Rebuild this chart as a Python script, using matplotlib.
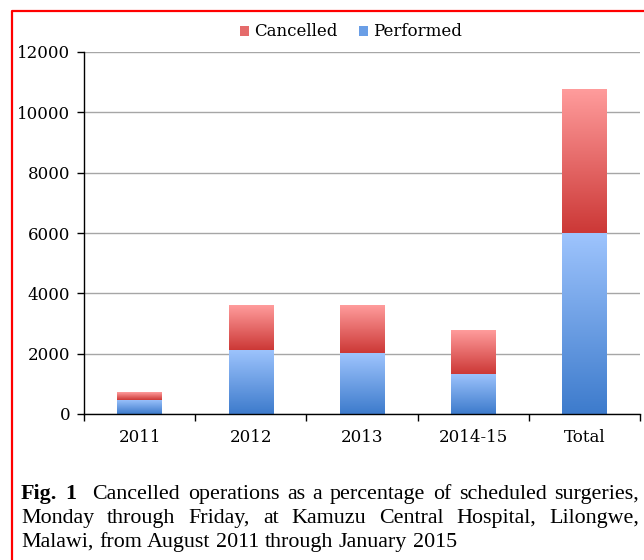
import matplotlib
matplotlib.use("Agg")
import matplotlib.pyplot as plt
import numpy as np
from matplotlib.colors import LinearSegmentedColormap
from matplotlib.patches import Patch
from matplotlib.lines import Line2D

categories = ["2011", "2012", "2013", "2014-15", "Total"]
performed = [465, 2125, 2020, 1330, 5990]
cancelled = [255, 1480, 1560, 1455, 4750]

W, H = 644, 560
fig = plt.figure(figsize=(W / 100, H / 100), dpi=100)
ax = fig.add_axes([84 / W, 1 - 414 / H, (640 - 84) / W, (414 - 52) / H])

tick_font = "DejaVu Serif"
cap_font = "Liberation Serif"
blue_cmap = LinearSegmentedColormap.from_list("b", ["#3d7bcc", "#9ec4fd"])
red_cmap = LinearSegmentedColormap.from_list("r", ["#cc3836", "#ff9c9c"])
grad = np.linspace(0, 1, 256).reshape(-1, 1)

x = np.arange(len(categories))
width = 0.4
b1 = ax.bar(x, performed, width, color="none", zorder=2)
b2 = ax.bar(x, cancelled, width, bottom=performed, color="none", zorder=2)

# gradient fill for each segment
for bars, cmap in ((b1, blue_cmap), (b2, red_cmap)):
    for p in bars:
        x0, y0 = p.get_x(), p.get_y()
        ax.imshow(grad, extent=[x0, x0 + p.get_width(), y0, y0 + p.get_height()],
                  aspect="auto", cmap=cmap, origin="lower", zorder=2)

ax.set_xlim(-0.5, len(categories) - 0.5)
ax.set_ylim(0, 12000)
ax.set_yticks(np.arange(0, 12001, 2000))
ax.set_xticks(x)
ax.set_xticklabels(categories, fontfamily=tick_font, fontsize=12)
ax.set_xticks(np.arange(-0.5, len(categories), 1), minor=True)
ax.tick_params(axis="x", which="major", length=0, pad=11)
ax.tick_params(axis="x", which="minor", length=5, direction="out", width=1)
ax.tick_params(axis="y", length=5, direction="out", width=1, pad=5)
for lab in ax.get_yticklabels():
    lab.set_fontfamily(tick_font)
    lab.set_fontsize(12)
ax.yaxis.grid(True, color="#a6a6a6", lw=1)
ax.set_axisbelow(True)
ax.spines["top"].set_visible(False)
ax.spines["right"].set_visible(False)
for s in ("left", "bottom"):
    ax.spines[s].set_color("black")
    ax.spines[s].set_linewidth(1)
    ax.spines[s].set_zorder(3)

handles = [Patch(facecolor="#e56b6b", label="Cancelled"),
           Patch(facecolor="#6a9ee6", label="Performed")]
fig.legend(handles=handles, loc="center", bbox_to_anchor=(351 / W, 1 - 32 / H),
           ncol=2, frameon=False, handlelength=0.55, handleheight=0.55,
           handletextpad=0.3, columnspacing=1.3, prop={"family": tick_font, "size": 12})

# red frame (left and top edges)
fig.add_artist(Line2D([12.5 / W, 12.5 / W, 1.0], [0.0, 1 - 10.5 / H, 1 - 10.5 / H],
                      transform=fig.transFigure, color="red", lw=1.6))

# justified caption, word by word on a common baseline
lines = [
    [("Fig.", "bold"), ("1", "bold"), ("Cancelled", "normal"), ("operations", "normal"),
     ("as", "normal"), ("a", "normal"), ("percentage", "normal"), ("of", "normal"),
     ("scheduled", "normal"), ("surgeries,", "normal")],
    [(w, "normal") for w in "Monday through Friday, at Kamuzu Central Hospital, Lilongwe,".split()],
    [(w, "normal") for w in "Malawi, from August 2011 through January 2015".split()],
]
left_px, right_px = 21, 639
baselines = [499, 523, 547]
fs = 15.8
renderer = fig.canvas.get_renderer()
for i, (words, yp) in enumerate(zip(lines, baselines)):
    texts = [fig.text(0, 1 - yp / H, w, fontfamily=cap_font, fontsize=fs,
                      fontweight=wt, va="baseline", ha="left") for w, wt in words]
    widths = [t.get_window_extent(renderer).width for t in texts]
    extra = [0.0] * len(words)
    if i == 0:
        extra[1] = 9  # wider space after "Fig. 1"
    if i < 2:
        gap = (right_px - left_px - sum(widths) - sum(extra)) / (len(words) - 1)
    else:
        gap = 5.5
    xp = left_px
    for t, wd, ex in zip(texts, widths, extra):
        t.set_x(xp / W)
        xp += wd + gap + ex

fig.savefig("out.png", dpi=100)
